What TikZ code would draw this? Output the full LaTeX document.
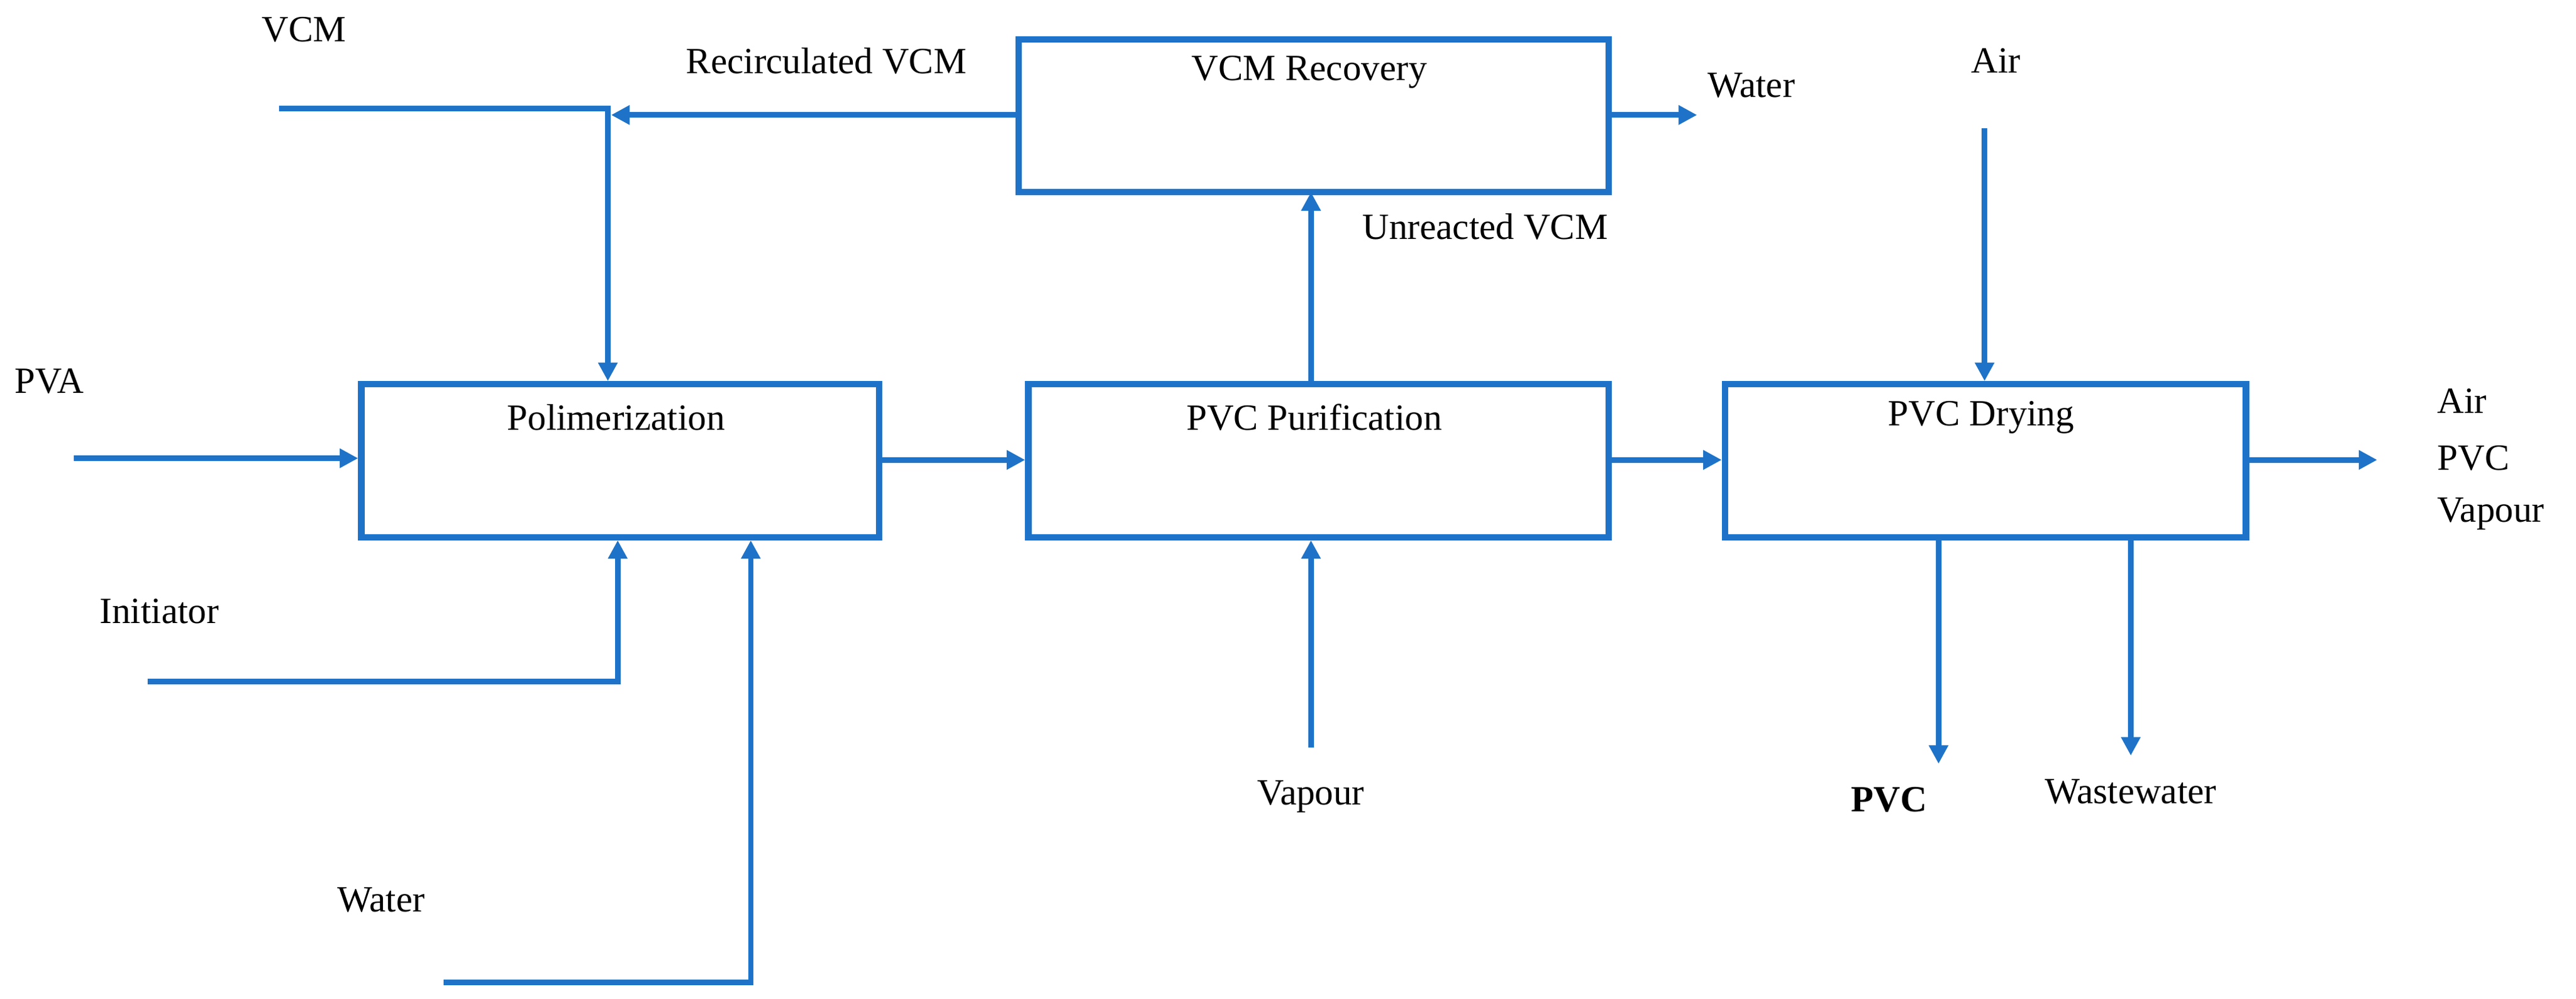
\documentclass[tikz,border=0pt]{standalone}
\usepackage{fontspec}
\setmainfont{Liberation Serif}
\usetikzlibrary{arrows.meta}
\definecolor{fb}{RGB}{30,115,200}
\begin{document}
\begin{tikzpicture}[x=0.01cm,y=-0.01cm,
  box/.style={draw=fb,line width=1.1pt,minimum height=0.93cm,inner sep=0pt,anchor=north west},
  ln/.style={draw=fb,line width=0.95pt},
  ar/.style={ln,-{Triangle[length=3.2pt,width=3.2pt]}},
  lb/.style={font=\fontsize{6.4}{7}\selectfont,inner sep=0pt}]
\useasboundingbox (0,0) rectangle (1568,608);
\node[box,minimum width=3.59cm] (rec) at (618,22) {};
\node[lb] at (797,44) {VCM Recovery};
\node[box,minimum width=3.15cm] (pol) at (218,232) {};
\node[lb] at (375,254) {Polimerization};
\node[box,minimum width=3.53cm] (pur) at (624,232) {};
\node[lb] at (800,254) {PVC Purification};
\node[box,minimum width=3.17cm] (dry) at (1048,232) {};
\node[lb] at (1206,254) {PVC Drying};
\coordinate (vcm0) at (170,66);
\coordinate (vcm1) at (370,66);
\coordinate (recl) at (618,70);
\coordinate (recw) at (1033,70);
\coordinate (air0) at (1208,78);
\coordinate (pva0) at (45,279);
\coordinate (out) at (1447,280);
\coordinate (ini0) at (90,415);
\coordinate (ini1) at (376,415);
\coordinate (wat0) at (270,598);
\coordinate (wat1) at (457,598);
\coordinate (vap0) at (798,455);
\coordinate (pvc1) at (1180,465);
\coordinate (ww1) at (1297,460);
\draw[ar] (vcm0) -- (vcm1) -- (vcm1 |- pol.north);
\draw[ar] (recl) -- (372,70);
\draw[ar] (rec.east |- recw) -- (recw);
\draw[ar] (pur.north -| 798,0) -- (798,117);
\draw[ar] (air0) -- (air0 |- dry.north);
\draw[ar] (pva0) -- (pva0 -| pol.west);
\draw[ar] (pol.east |- 0,280) -- (pur.west |- 0,280);
\draw[ar] (pur.east |- 0,280) -- (dry.west |- 0,280);
\draw[ar] (dry.east |- out) -- (out);
\draw[ar] (ini0) -- (ini1) -- (ini1 |- pol.south);
\draw[ar] (wat0) -- (wat1) -- (wat1 |- pol.south);
\draw[ar] (vap0) -- (vap0 |- pur.south);
\draw[ar] (pvc1 |- dry.south) -- (pvc1);
\draw[ar] (ww1 |- dry.south) -- (ww1);
\node[lb] at (185,18) {VCM};
\node[lb] at (503,37) {Recirculated VCM};
\node[lb] at (1066,52) {Water};
\node[lb] at (1215,37) {Air};
\node[lb] at (904,138) {Unreacted VCM};
\node[lb] at (30,232) {PVA};
\node[lb] at (97,372) {Initiator};
\node[lb] at (232,548) {Water};
\node[lb] at (798,485) {Vapour};
\node[lb,font=\fontsize{6.4}{7}\selectfont\bfseries] at (1150,487) {PVC};
\node[lb] at (1297,482) {Wastewater};
\node[lb,anchor=west] at (1483,244) {Air};
\node[lb,anchor=west] at (1483,279) {PVC};
\node[lb,anchor=west] at (1483,313) {Vapour};
\end{tikzpicture}
\end{document}
